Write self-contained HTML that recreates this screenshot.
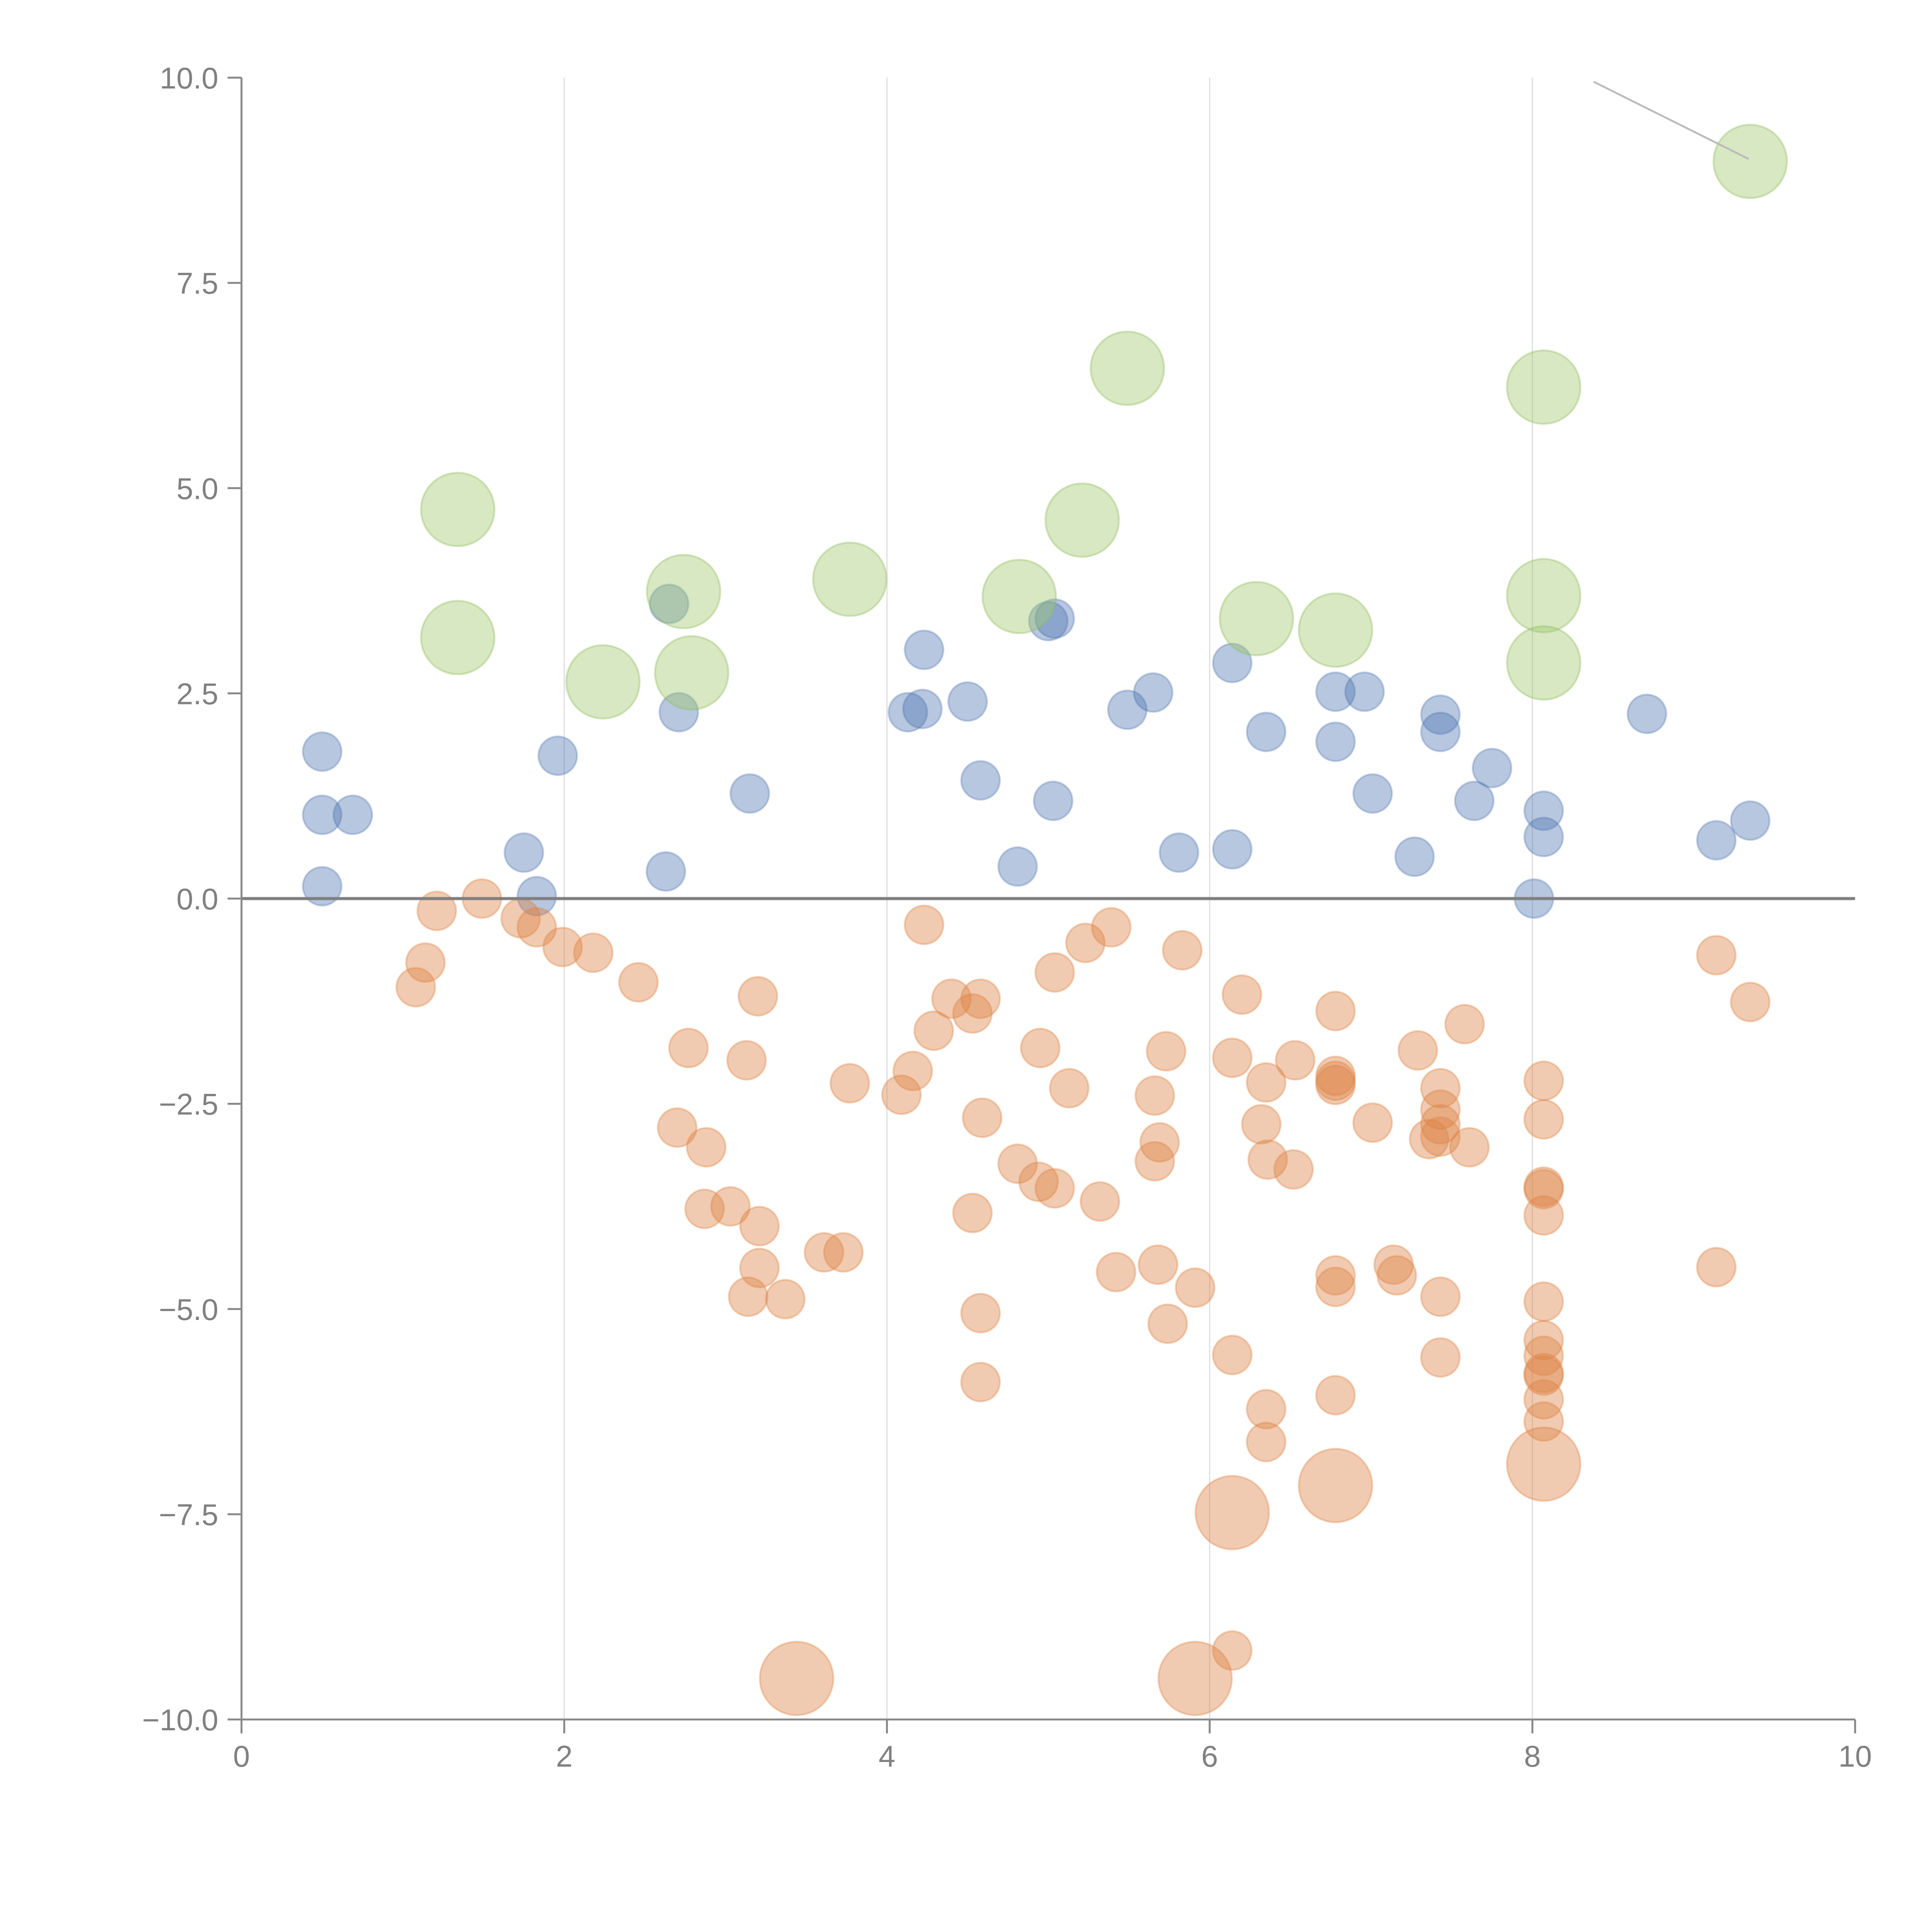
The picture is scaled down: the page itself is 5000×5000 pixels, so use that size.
<!DOCTYPE html>
<html><head><meta charset="utf-8"><style>html,body{margin:0;padding:0;background:#fff}svg{display:block}</style></head>
<body>
<svg id="chart" xmlns="http://www.w3.org/2000/svg" width="5000" height="5000" viewBox="0 0 5000 5000" font-family="Liberation Sans, sans-serif">
<rect width="5000" height="5000" fill="#fff"/>
<g id="grid"></g>
<g id="points"></g>
<g id="axes"></g>
</svg>
<script>
const xTicks = [0, 2, 4, 6, 8, 10];
const yTicks = [-10, -7.5, -5, -2.5, 0, 2.5, 5, 7.5, 10];
const yTickLabels = ["\u221210.0", "\u22127.5", "\u22125.0", "\u22122.5", "0.0", "2.5", "5.0", "7.5", "10.0"];
const xTickLabels = ["0", "2", "4", "6", "8", "10"];
const bluePx = [[261,610],[261,661],[286,661],[261,719],[425,692],[435,727],[452,613],[540,707],[543,490],[551,578],[608,644],[737,578],[748,575],[750,527],[785,569],[796,633],[825,703],[850,504],[856,502],[855,650],[915,576],[935,562],[956,692],[1000,538],[1000,689],[1027,594],[1083,561],[1083,602],[1107,561],[1114,644],[1147,695],[1168,580],[1168,594],[1196,650],[1210,623],[1244,729],[1252,658],[1252,679],[1336,579],[1392,682],[1420,666]];
const orangePx = [[337,801],[345,781],[355,739],[391,729],[423,745],[436,752],[456,768],[481,773],[518,797],[559,850],[549,915],[573,931],[572,981],[592,979],[606,860],[615,808],[616,995],[616,1029],[607,1052],[637,1054],[669,1016],[684,1016],[690,879],[732,888],[740,869],[750,750],[758,836],[772,810],[789,822],[796,810],[797,907],[789,984],[796,1065],[796,1121],[825,944],[843,959],[844,850],[856,789],[856,964],[867,883],[880,765],[892,975],[902,752],[905,1032],[937,889],[937,942],[941,927],[940,1026],[946,853],[948,1074],[959,771],[969,1045],[1000,858],[1000,1099],[1008,807],[1027,878],[1023,912],[1028,941],[1027,1143],[1027,1170],[1050,949],[1051,860],[1083,820],[1083,873],[1083,880],[1083,877],[1083,1035],[1083,1044],[1083,1132],[1114,911],[1131,1026],[1133,1035],[1150,852],[1159,924],[1168,883],[1168,900],[1168,912],[1168,922],[1168,1052],[1168,1101],[1188,831],[1192,931],[1252,877],[1252,908],[1252,963],[1252,965],[1252,986],[1252,1056],[1252,1087],[1252,1100],[1252,1114],[1252,1116],[1252,1135],[1252,1153],[1000,1339],[1392,775],[1420,813],[1392,1028]];
const orangeBigPx = [[646,1362],[970,1362],[1000,1227],[1083,1205],[1252,1188]];
const greenPx = [[371,413],[372,517],[489,553],[555,480],[561,546],[690,470],[827,484],[878,422],[915,299],[1020,502],[1084,511],[1252,314],[1252,483],[1252,538],[1420,131]];
function toData(p){return [ +((p[0]-196)/130.9).toFixed(2), +((729-p[1])/66.6).toFixed(2) ];}
const blueData = bluePx.map(toData);
const orangeData = orangePx.map(toData);
const orangeBigData = orangeBigPx.map(toData);
const greenData = greenPx.map(toData);

const X0=625, X1=4801, YT=201, YB=4450;
function sx(v){return X0 + v/10*(X1-X0);}
function sy(v){return YT + (10-v)/20*(YB-YT);}
const NS="http://www.w3.org/2000/svg";
function mk(tag, attrs, parent){const e=document.createElementNS(NS,tag);for(const k in attrs)e.setAttribute(k,attrs[k]);parent.appendChild(e);return e;}
const grid=document.getElementById('grid'), pts=document.getElementById('points'), axes=document.getElementById('axes');
[2,4,6,8].forEach(v=>{
  const l=mk('line',{x1:sx(v),x2:sx(v),y1:YT,y2:YB,stroke:'#dddddd','stroke-width':3},grid);
  
  
});
function drawSeries(data, r, fill, stroke, name){
  data.forEach(d=>{
    const c=mk('circle',{cx:sx(d[0]),cy:sy(d[1]),r:r,fill:fill,stroke:stroke,'stroke-width':5},pts);
    
    
  });
}
drawSeries(blueData,50,'rgba(76,114,176,0.4)','rgba(76,114,176,0.3)','blue-point');
drawSeries(orangeData,50,'rgba(221,132,70,0.42)','rgba(221,132,70,0.35)','orange-point');
drawSeries(orangeBigData,95,'rgba(221,132,70,0.42)','rgba(221,132,70,0.35)','orange-large-point');
drawSeries(greenData,95,'rgba(160,200,110,0.42)','rgba(140,185,90,0.35)','green-point');
const ann=mk('line',{x1:sx(toData([1293,66])[0]),y1:sy(toData([1293,66])[1]),x2:sx(toData([1418,129])[0]),y2:sy(toData([1418,129])[1]),stroke:'#bbbbbb','stroke-width':5},axes);


const zl=mk('line',{x1:X0,x2:X1,y1:sy(0),y2:sy(0),stroke:'#808080','stroke-width':8},axes);


const ya=mk('line',{x1:X0,x2:X0,y1:YT,y2:YB,stroke:'#888','stroke-width':5},axes);


const xa=mk('line',{x1:X0,x2:X1,y1:YB,y2:YB,stroke:'#888','stroke-width':5},axes);


yTicks.forEach((v,i)=>{
  const t=mk('line',{x1:X0-36,x2:X0,y1:sy(v),y2:sy(v),stroke:'#888','stroke-width':5},axes);
  
  
  const tx=mk('text',{x:X0-60,y:sy(v)+28,'text-anchor':'end','font-size':78,fill:'#808080'},axes);
  tx.textContent=yTickLabels[i];
  
  
});
xTicks.forEach((v,i)=>{
  const t=mk('line',{x1:sx(v),x2:sx(v),y1:YB,y2:YB+36,stroke:'#888','stroke-width':5},axes);
  
  
  const tx=mk('text',{x:sx(v),y:YB+122,'text-anchor':'middle','font-size':78,fill:'#808080'},axes);
  tx.textContent=xTickLabels[i];
  
  
});
</script>
</body></html>
